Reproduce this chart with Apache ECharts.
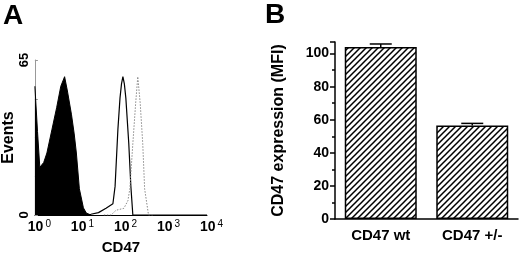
<!DOCTYPE html>
<html>
<head>
<meta charset="utf-8">
<script src="https://cdn.jsdelivr.net/npm/echarts@6/dist/echarts.min.js"></script>
<style>
  html, body { margin: 0; padding: 0; background: #fff; }
  #chart { width: 520px; height: 260px; }
</style>
</head>
<body>
<div id="chart"></div>
<script>
// panel A: flow histograms (CD47 fluorescence, log scale)
const isoX = [1, 1.15, 1.3, 1.6, 1.9, 2.5, 3.2, 4.0, 4.9, 5.7, 7.1, 8.2, 9.2, 10.8, 13.4, 15.7, 20];
const isoY = [54, 35, 20, 22, 26, 36, 45, 54, 58, 52, 42, 34, 26, 11, 3, 0.8, 0];
const hetX = [15, 20, 30, 45, 65, 73, 85, 95, 103, 111, 120, 130, 152, 170, 189, 250, 10000];
const hetY = [0, 0.3, 1, 2.8, 4.7, 12, 36, 49, 55, 58, 55, 49, 30, 12, 0, 0, 0];
const wtX = [40, 59, 77, 117, 145, 161, 189, 220, 246, 280, 321, 355, 437, 600];
const wtY = [0, 0, 2, 2.8, 6, 11, 30, 47, 58, 47, 30, 11, 0, 0];

// panel B: MFI bars
const groups = ['CD47 wt', 'CD47 +/-'];
const mfi = [104, 56.5];
const sem = [1.8, 1.3];

const font = 'Liberation Sans, Arial, sans-serif';
const zip = (xs, ys) => xs.map((x, i) => [x, ys[i]]);

// hatch pattern for the bars
const hatch = document.createElement('canvas');
hatch.width = 6;
hatch.height = 6;
let ctx = hatch.getContext('2d');
ctx.fillStyle = '#fff';
ctx.fillRect(0, 0, 6, 6);
ctx.strokeStyle = '#000';
ctx.lineWidth = 1.5;
ctx.beginPath();
ctx.moveTo(-1, 7); ctx.lineTo(7, -1);
ctx.moveTo(-4, 4); ctx.lineTo(4, -4);
ctx.moveTo(2, 10); ctx.lineTo(10, 2);
ctx.stroke();

var chart = echarts.init(document.getElementById('chart'));

let option = {
  animation: false,
  textStyle: { fontFamily: font },
  graphic: [
    { type: 'text', left: 3, top: 2, style: { text: 'A', font: 'bold 28px ' + font, fill: '#000' } },
    { type: 'text', left: 265, top: 1, style: { text: 'B', font: 'bold 28px ' + font, fill: '#000' } }
  ],
  grid: [
    { left: 33, right: 313, top: 60, bottom: 36 },
    { left: 335, right: 2, top: 42, bottom: 41 }
  ],
  xAxis: [
    {
      gridIndex: 0,
      type: 'log',
      logBase: 10,
      min: 1,
      max: 10000,
      name: 'CD47',
      nameLocation: 'middle',
      nameGap: 25,
      nameTextStyle: { fontSize: 15, fontWeight: 'bold', color: '#000' },
      axisLine: { lineStyle: { color: '#000', width: 1 } },
      axisTick: { show: false },
      splitLine: { show: false },
      axisLabel: {
        margin: 4,
        color: '#000',
        formatter: (v) => '{p| }{b|10}{s|' + Math.round(Math.log10(v)) + '}',
        rich: {
          p: { width: 9 },
          b: { fontSize: 14, fontWeight: 'bold', color: '#000' },
          s: { fontSize: 10, color: '#000', padding: [0, 0, 6, 2] }
        }
      }
    },
    {
      gridIndex: 1,
      type: 'category',
      data: groups,
      axisLine: { lineStyle: { color: '#000', width: 1.5 } },
      axisTick: { alignWithLabel: true, length: 4, lineStyle: { color: '#000', width: 1.5 } },
      axisLabel: { margin: 9, fontSize: 15, fontWeight: 'bold', color: '#000' }
    }
  ],
  yAxis: [
    {
      gridIndex: 0,
      type: 'value',
      min: 0,
      max: 65,
      interval: 16.25,
      name: 'Events',
      nameLocation: 'middle',
      nameGap: 17,
      nameTextStyle: { fontSize: 16, fontWeight: 'bold', color: '#000' },
      axisLine: { show: true, lineStyle: { color: '#999', width: 1 } },
      axisTick: { show: true, inside: true, length: 3, lineStyle: { color: '#999' } },
      splitLine: { show: false },
      axisLabel: {
        rotate: 90,
        margin: 4,
        fontSize: 13,
        fontWeight: 'bold',
        color: '#000',
        formatter: (v) => (v === 0 || v === 65 ? String(v) : '')
      }
    },
    {
      gridIndex: 1,
      type: 'value',
      min: 0,
      max: 107,
      interval: 20,
      name: 'CD47 expression (MFI)',
      nameLocation: 'middle',
      nameGap: 48,
      nameTextStyle: { fontSize: 16, fontWeight: 'bold', color: '#000' },
      axisLine: { show: true, lineStyle: { color: '#000', width: 1.5 } },
      axisTick: { show: true, length: 5, lineStyle: { color: '#000', width: 1.5 } },
      minorTick: { show: true, splitNumber: 2, length: 3, lineStyle: { color: '#000', width: 1.5 } },
      splitLine: { show: false },
      axisLabel: {
        margin: 6,
        fontSize: 14,
        fontWeight: 'bold',
        color: '#000',
        showMaxLabel: false
      }
    }
  ],
  series: [
    {
      name: 'isotype',
      type: 'line',
      xAxisIndex: 0,
      yAxisIndex: 0,
      data: zip(isoX, isoY),
      symbol: 'none',
      lineStyle: { color: '#000', width: 1 },
      areaStyle: { color: '#000', opacity: 1 }
    },
    {
      name: 'CD47 +/-',
      type: 'line',
      xAxisIndex: 0,
      yAxisIndex: 0,
      data: zip(hetX, hetY),
      symbol: 'none',
      lineStyle: { color: '#000', width: 1.2 }
    },
    {
      name: 'CD47 wt',
      type: 'line',
      xAxisIndex: 0,
      yAxisIndex: 0,
      data: zip(wtX, wtY),
      symbol: 'none',
      lineStyle: { color: '#888', width: 1, type: [1.5, 1.5] }
    },
    {
      name: 'MFI',
      type: 'bar',
      xAxisIndex: 1,
      yAxisIndex: 1,
      data: mfi,
      barWidth: 72,
      itemStyle: {
        color: { image: hatch, repeat: 'repeat' },
        borderColor: '#000',
        borderWidth: 1.5
      }
    },
    {
      name: 'SEM',
      type: 'custom',
      xAxisIndex: 1,
      yAxisIndex: 1,
      data: mfi.map((m, i) => [i, m, m + sem[i]]),
      renderItem: function (params, api) {
        let base = api.coord([api.value(0), api.value(1)]);
        let top = api.coord([api.value(0), api.value(2)]);
        let half = 11;
        return {
          type: 'group',
          children: [
            { type: 'line', shape: { x1: base[0], y1: base[1], x2: top[0], y2: top[1] }, style: { stroke: '#000', lineWidth: 1.5 } },
            { type: 'line', shape: { x1: top[0] - half, y1: top[1], x2: top[0] + half, y2: top[1] }, style: { stroke: '#000', lineWidth: 1.5 } }
          ]
        };
      },
      z: 5
    }
  ]
};

chart.setOption(option);
</script>
</body>
</html>
